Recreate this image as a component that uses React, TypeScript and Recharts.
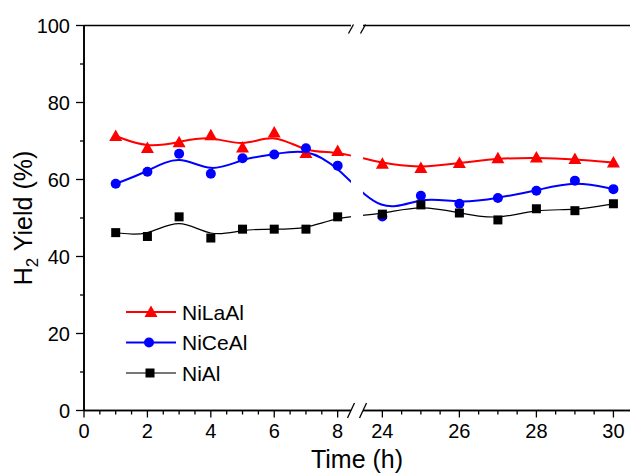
import React from 'react';
import { LineChart, Line, XAxis, YAxis, ReferenceArea, ReferenceLine } from 'recharts';

// measured hours (x) and H2 yield values (%) per catalyst
const hours = [1, 2, 3, 4, 5, 6, 7, 8, 24, 25, 26, 27, 28, 29, 30];
const niLaAl = [71.3, 68.2, 69.7, 71.5, 68.3, 72.2, 66.9, 67.4, 64.1, 63.0, 64.3, 65.5, 65.7, 65.3, 64.4];
const niCeAl = [58.9, 62.0, 66.7, 61.5, 65.5, 66.5, 68.1, 63.6, 50.4, 55.8, 53.7, 55.2, 57.1, 59.7, 57.5];
const niAl = [46.2, 45.2, 50.3, 44.8, 47.1, 47.1, 47.1, 50.3, 51.0, 53.4, 51.3, 49.5, 52.4, 51.9, 53.7];

const seriesNames = ['NiLaAl', 'NiCeAl', 'NiAl'];
const xLabelHours = [0, 2, 4, 6, 8, 24, 26, 28, 30];
const xTickHours = [
  0, 0.5, 1, 1.5, 2, 2.5, 3, 3.5, 4, 4.5, 5, 5.5, 6, 6.5, 7, 7.5, 8,
  24, 24.5, 25, 25.5, 26, 26.5, 27, 27.5, 28, 28.5, 29, 29.5, 30,
];
const yTicks = [0, 10, 20, 30, 40, 50, 60, 70, 80, 90, 100];
const yLabelTicks = [0, 20, 40, 60, 80, 100];

// broken x axis: 0-8 h, then 24-30 h drawn with its own scale
const SEG2_START = 9.41;
const SEG2_RATIO = 1.2145;
const X_MAX = 17.22;
const GAP = [8.42, 8.8];
const toPos = (h: number) => (h <= 12 ? h : SEG2_START + (h - 24) * SEG2_RATIO);
const fromPos = (p: number) => (p <= GAP[1] ? p : 24 + (p - SEG2_START) / SEG2_RATIO);

const data = hours.map((h, i) => ({
  pos: toPos(h),
  niLaAl: niLaAl[i],
  niCeAl: niCeAl[i],
  niAl: niAl[i],
}));

const FONT = "'Liberation Sans', Arial, sans-serif";
const AXIS_LINE = { stroke: '#000', strokeWidth: 1.6 };

const XTick = (props: any) => {
  const { x, y, payload } = props;
  const h = Math.round(fromPos(payload.value) * 2) / 2;
  const major = xLabelHours.includes(h);
  return (
    <g>
      <line x1={x} x2={x} y1={y} y2={y + (major ? 7 : 4)} stroke="#000" strokeWidth={1.3} />
      {major && (
        <text x={x} y={y + 27.5} textAnchor="middle" fontSize={20} fontFamily={FONT} fill="#000">
          {h}
        </text>
      )}
    </g>
  );
};

const YTick = (props: any) => {
  const { x, y, payload } = props;
  const major = yLabelTicks.includes(payload.value);
  return (
    <g>
      <line x1={x} x2={x - (major ? 8 : 4)} y1={y} y2={y} stroke="#000" strokeWidth={1.3} />
      {major && (
        <text x={x - 14} y={y + 7} textAnchor="end" fontSize={20} fontFamily={FONT} fill="#000">
          {payload.value}
        </text>
      )}
    </g>
  );
};

const Triangle = (props: any) => {
  const { cx, cy, fill } = props;
  if (cx == null || cy == null) return null;
  return <path d={`M${cx},${cy - 6.5} L${cx + 6.5},${cy + 5} L${cx - 6.5},${cy + 5} Z`} fill={fill} />;
};

const Circle = (props: any) => {
  const { cx, cy, fill } = props;
  if (cx == null || cy == null) return null;
  return <circle cx={cx} cy={cy} r={5} fill={fill} />;
};

const Square = (props: any) => {
  const { cx, cy, fill } = props;
  if (cx == null || cy == null) return null;
  return <rect x={cx - 4.5} y={cy - 4.5} width={9} height={9} fill={fill} />;
};

// white band + slashes for the axis break
const BreakMark = (props: any) => {
  const { x, y, width, height } = props;
  const bottom = y + height;
  const xs = [x, x + width];
  return (
    <g>
      <rect x={x} y={y - 2} width={width} height={height + 4} fill="#fff" />
      {xs.map((sx, i) => (
        <g key={i}>
          <line x1={sx - 2.5} y1={y + 8} x2={sx + 2.5} y2={y - 1} stroke="#000" strokeWidth={1.3} />
          <line x1={sx - 3.5} y1={bottom + 7.5} x2={sx + 3.5} y2={bottom - 7.5} stroke="#000" strokeWidth={1.3} />
        </g>
      ))}
    </g>
  );
};

const XTitle = (props: any) => {
  const { viewBox } = props;
  return (
    <text x={viewBox.x + viewBox.width / 2} y={468} textAnchor="middle" fontSize={25} fontFamily={FONT} fill="#000">
      Time (h)
    </text>
  );
};

const YTitle = () => (
  <text x={32} y={218} transform="rotate(-90, 32, 218)" textAnchor="middle" fontSize={25} fontFamily={FONT} fill="#000">
    H
    <tspan fontSize={17} dy={6}>2</tspan>
    <tspan dy={-6}> Yield (%)</tspan>
  </text>
);

const legendItems = [
  { name: seriesNames[0], color: '#ff0000', marker: 'tri' },
  { name: seriesNames[1], color: '#0000ff', marker: 'circle' },
  { name: seriesNames[2], color: '#777777', marker: 'square' },
];

const Legend = () => (
  <svg width={200} height={110} style={{ position: 'absolute', left: 120, top: 290, pointerEvents: 'none' }}>
    {legendItems.map((item, i) => {
      const cy = 22 + i * 30.5;
      const cx = 31;
      return (
        <g key={item.name}>
          <line x1={6} x2={56} y1={cy} y2={cy} stroke={item.color} strokeWidth={2} />
          {item.marker === 'tri' && <Triangle cx={cx} cy={cy} fill="#ff0000" />}
          {item.marker === 'circle' && <Circle cx={cx - 2} cy={cy} fill="#0000ff" />}
          {item.marker === 'square' && <Square cx={cx - 1} cy={cy} fill="#000" />}
          <text x={62} y={cy + 7.5} fontSize={21} fontFamily={FONT} fill="#000">
            {item.name}
          </text>
        </g>
      );
    })}
  </svg>
);

export default function App() {
  return (
    <div style={{ position: 'absolute', left: 0, top: 0, width: 630, height: 473, background: '#fff' }}>
      <LineChart width={630} height={473} data={data} margin={{ top: 25.5, right: 0, bottom: 0, left: 0 }}>
        <XAxis
          dataKey="pos"
          type="number"
          domain={[0, X_MAX]}
          allowDataOverflow
          ticks={xTickHours.map(toPos)}
          interval={0}
          tick={<XTick />}
          tickLine={false}
          tickSize={0}
          tickMargin={0}
          height={62.5}
          stroke="#000"
          axisLine={AXIS_LINE}
          label={<XTitle />}
        />
        <YAxis
          type="number"
          domain={[0, 100]}
          allowDataOverflow
          ticks={yTicks}
          interval={0}
          tick={<YTick />}
          tickLine={false}
          tickSize={0}
          tickMargin={0}
          width={84}
          stroke="#000"
          axisLine={AXIS_LINE}
          label={<YTitle />}
        />
        {/* frame: bottom, top and left borders */}
        <ReferenceLine y={0} stroke="#000" strokeWidth={1.6} ifOverflow="visible" />
        <ReferenceLine y={100} stroke="#000" strokeWidth={1.6} ifOverflow="visible" />
        <ReferenceLine x={0} stroke="#000" strokeWidth={1.6} ifOverflow="visible" />
        <Line dataKey="niLaAl" type="basis" stroke="#ff0000" strokeWidth={2} dot={<Triangle fill="#ff0000" />} isAnimationActive={false} />
        <Line dataKey="niCeAl" type="basis" stroke="#0000ff" strokeWidth={2} dot={<Circle fill="#0000ff" />} isAnimationActive={false} />
        <Line dataKey="niAl" type="basis" stroke="#000" strokeWidth={1.2} dot={<Square fill="#000" />} isAnimationActive={false} />
        <ReferenceArea
          x1={GAP[0]}
          x2={GAP[1]}
          y1={0}
          y2={100}
          ifOverflow="visible"
          shape={<BreakMark />}
          zIndex={1500}
        />
      </LineChart>
      <Legend />
    </div>
  );
}
